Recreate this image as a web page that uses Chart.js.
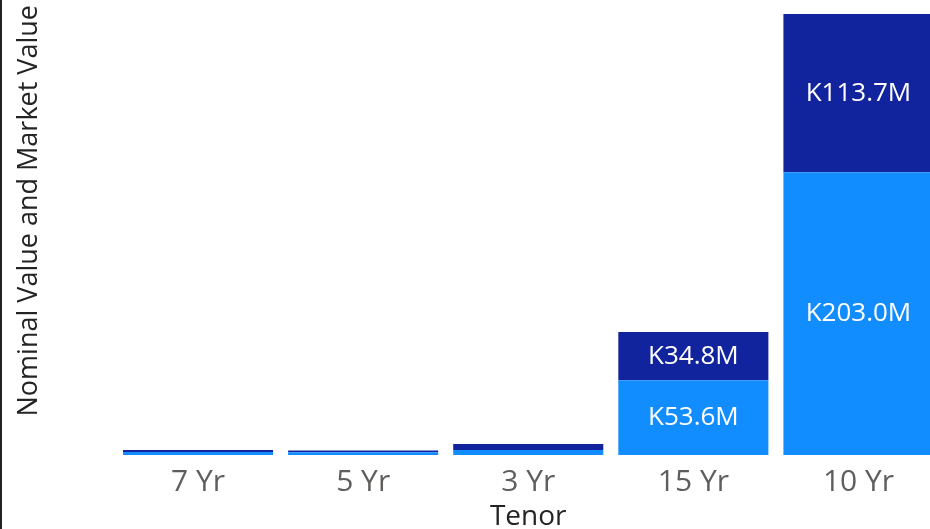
<!DOCTYPE html>
<html>
<head>
<meta charset="utf-8">
<script src="https://cdn.jsdelivr.net/npm/chart.js@4/dist/chart.umd.min.js"></script>
<style>
  html, body { margin: 0; padding: 0; background: #fff; overflow: hidden; }
  #wrap { position: relative; width: 941px; height: 529px; }
  #edge { position: absolute; left: 0; top: 0; width: 2px; height: 529px; background: #222; }
</style>
</head>
<body>
<div id="wrap">
  <canvas id="chart"></canvas>
  <div id="edge"></div>
</div>
<script>
'use strict';

// ─── DATA ────────────────────────────────────────────────────────────────────

const tenors       = ['7 Yr', '5 Yr', '3 Yr', '15 Yr', '10 Yr'];
const nominalValue = [2.2, 2.0, 3.6, 53.6, 203.0];   // light, bottom
const marketValue  = [1.4, 1.3, 4.3, 34.8, 113.7];   // dark, top

const FONT = '"Segoe UI", "Open Sans", "Noto Sans", sans-serif';

// ─── LABELS IN SEGMENTS ──────────────────────────────────────────────────────

const segmentLabels = {
  id: 'segmentLabels',
  afterDatasetsDraw(chart) {
    const ctx = chart.ctx;
    ctx.save();
    ctx.fillStyle    = '#ffffff';
    ctx.font         = '26px ' + FONT;
    ctx.textAlign    = 'center';
    ctx.textBaseline = 'middle';
    chart.data.datasets.forEach((ds, i) => {
      chart.getDatasetMeta(i).data.forEach((bar, j) => {
        const h = Math.abs(bar.base - bar.y);
        if (h < 30) return;
        ctx.fillText('K' + ds.data[j].toFixed(1) + 'M', bar.x, (bar.y + bar.base) / 2);
      });
    });
    ctx.restore();
  }
};

// ─── CHART ───────────────────────────────────────────────────────────────────

new Chart(document.getElementById('chart'), {
  type: 'bar',
  data: {
    labels: tenors,
    datasets: [
      { label: 'Nominal Value', data: nominalValue, backgroundColor: '#118DFF' },
      { label: 'Market Value',  data: marketValue,  backgroundColor: '#12239E' },
    ],
  },
  options: {
    responsive:          true,
    maintainAspectRatio: false,
    animation:           false,
    categoryPercentage:  1,
    barPercentage:       0.909,
    layout: { padding: { top: 5 } },
    plugins: {
      legend:  { display: false },
      tooltip: { enabled: false },
    },
    scales: {
      x: {
        stacked: true,
        grid:   { display: false, drawTicks: false },
        border: { display: false },
        ticks: {
          color: '#605E5C',
          padding: 12,
          font: { family: FONT, size: 30, lineHeight: 1 },
        },
        title: {
          display: true,
          text: 'Tenor',
          color: '#252423',
          padding: { top: -6, bottom: -2 },
          font: { family: FONT, size: 28, lineHeight: 1 },
        },
      },
      y: {
        stacked: true,
        min: 0,
        max: 323.2,
        grid:   { display: false, drawTicks: false },
        border: { display: false },
        ticks:  { display: false },
        title: {
          display: true,
          text: 'Nominal Value and Market Value',
          align: 'end',
          color: '#252423',
          padding: { top: 16, bottom: 0 },
          font: { family: FONT, size: 27, lineHeight: 1 },
        },
        afterFit: s => { s.width = 115.5; },
      },
    },
  },
  plugins: [segmentLabels],
});
</script>
</body>
</html>
